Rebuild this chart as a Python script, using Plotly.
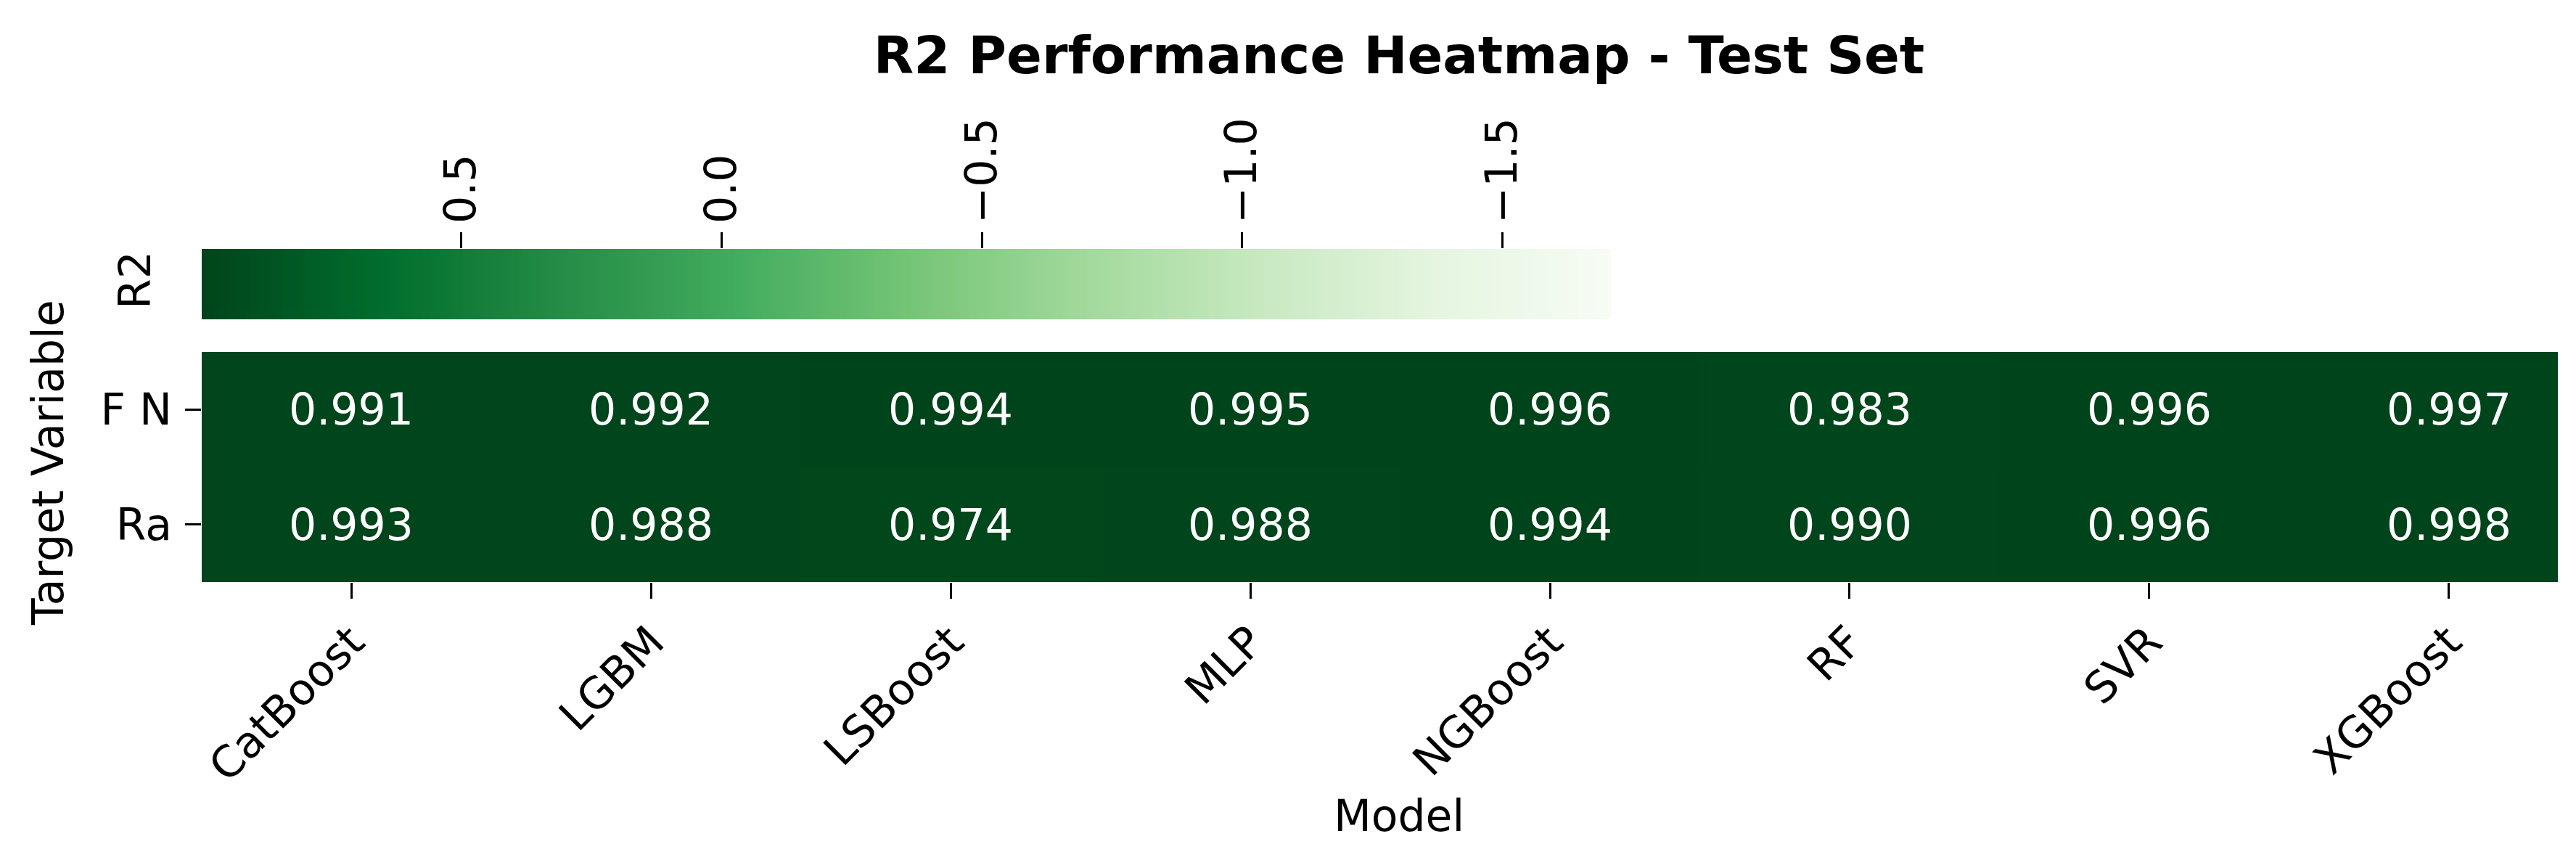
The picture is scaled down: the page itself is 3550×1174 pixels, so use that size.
import numpy as np # for the colour strip
import plotly.graph_objects as go # for plotting
import plotly.express as px # for the Greens palette

# data
models = ["CatBoost", "LGBM", "LSBoost", "MLP", "NGBoost", "RF", "SVR", "XGBoost"]
targets = ["F N", "Ra"]
r2_fn = [0.991, 0.992, 0.994, 0.995, 0.996, 0.983, 0.996, 0.997]
r2_ra = [0.993, 0.988, 0.974, 0.988, 0.994, 0.990, 0.996, 0.998]

# colour scale limits and colorbar ticks
color_min = -1.708
color_max = 0.998
cbar_ticks = [0.5, 0.0, -0.5, -1.0, -1.5]
cbar_labels = ["0.5", "0.0", "\u22120.5", "\u22121.0", "\u22121.5"]

W, H = 3550, 1174
FONT = "DejaVu Sans"
greens = px.colors.sequential.Greens

def px_x(p):
    return p / W

def px_y(p):
    return 1 - p / H

fig = go.Figure()

# main heatmap
fig.add_trace(go.Heatmap(
    z=[r2_fn, r2_ra], x=models, y=targets,
    colorscale=greens, zmin=color_min, zmax=color_max, showscale=False,
    texttemplate="%{z:.3f}", textfont=dict(family=FONT, size=60, color="white"),
    xaxis="x", yaxis="y", hoverinfo="skip",
))

# colorbar drawn as a strip so it can run high -> low from left to right
strip = np.linspace(color_min, color_max, 400)
fig.add_trace(go.Heatmap(
    z=[strip], x=strip, y=["R2"],
    colorscale=greens, zmin=color_min, zmax=color_max, showscale=False,
    xaxis="x2", yaxis="y2", hoverinfo="skip",
))

tick_font = dict(family=FONT, size=60, color="black")

fig.update_layout(
    width=W, height=H,
    margin=dict(l=0, r=0, t=0, b=0),
    paper_bgcolor="white", plot_bgcolor="white",
    title=dict(text="R2 Performance Heatmap - Test Set",
               font=dict(family=FONT, size=72, color="black", weight="bold"),
               x=px_x(1920), xanchor="center", y=px_y(68), yanchor="middle"),
    xaxis=dict(domain=[px_x(270), px_x(3517)], range=[-0.5, 7.364],
               anchor="y", tickangle=-45, tickfont=tick_font,
               ticks="outside", ticklen=22, tickwidth=3, tickcolor="black",
               showgrid=False, zeroline=False, showline=False, automargin=False),
    yaxis=dict(domain=[px_y(794), px_y(477)], range=[1.5, -0.5],
               anchor="x", tickfont=tick_font, ticklabelstandoff=6,
               ticks="outside", ticklen=22, tickwidth=3, tickcolor="black",
               showgrid=False, zeroline=False, showline=False, automargin=False),
    xaxis2=dict(domain=[px_x(270), px_x(2212)], range=[color_max, color_min],
                anchor="y2", side="top", tickvals=cbar_ticks, ticktext=cbar_labels,
                tickangle=-90, tickfont=tick_font,
                ticks="outside", ticklen=22, tickwidth=3, tickcolor="black",
                showgrid=False, zeroline=False, showline=False, automargin=False),
    yaxis2=dict(domain=[px_y(432), px_y(335)], anchor="x2",
                showticklabels=False, ticks="", showgrid=False, zeroline=False,
                automargin=False),
)

# labels
fig.add_annotation(text="R2", x=px_x(178), y=px_y(378), xref="paper", yref="paper",
                   textangle=-90, showarrow=False, font=tick_font,
                   xanchor="center", yanchor="middle")
fig.add_annotation(text="Target Variable", x=px_x(58), y=px_y(630), xref="paper", yref="paper",
                   textangle=-90, showarrow=False, font=tick_font,
                   xanchor="center", yanchor="middle")
fig.add_annotation(text="Model", x=px_x(1920), y=px_y(1116), xref="paper", yref="paper",
                   showarrow=False, font=tick_font, xanchor="center", yanchor="middle")

fig.write_html("out.html")
